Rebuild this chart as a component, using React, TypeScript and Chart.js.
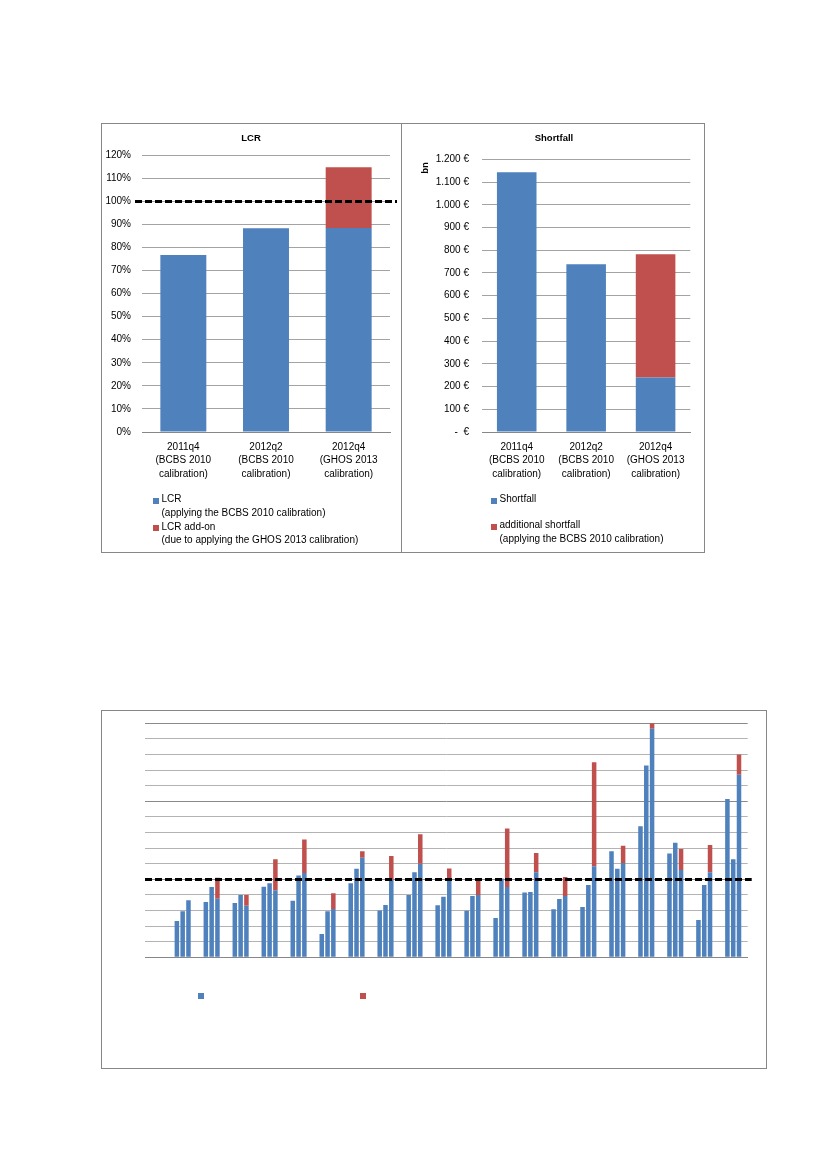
import React, { useEffect, useRef } from "react";
import { Chart, registerables } from "chart.js";

Chart.register(...registerables);

const FONT = "'Liberation Sans', Arial, sans-serif";
const BLUE = "#4F81BD";
const RED = "#C0504D";
const GRID = "#a3a3a3";
const FRAME = "#878787";

// ---------- LCR chart data ----------
const lcrCategories = [
  ["2011q4", "(BCBS 2010", "calibration)"],
  ["2012q2", "(BCBS 2010", "calibration)"],
  ["2012q4", "(GHOS 2013", "calibration)"],
];
const lcrBase = [76.7, 88.3, 88.4];
const lcrAddOn = [null, null, 26.3];
const lcrThreshold = 100;

// ---------- Shortfall chart data ----------
const shortfallCategories = [
  ["2011q4", "(BCBS 2010", "calibration)"],
  ["2012q2", "(BCBS 2010", "calibration)"],
  ["2012q4", "(GHOS 2013", "calibration)"],
];
const shortfallBase = [1143, 738, 240];
const shortfallAdditional = [null, null, 542];

// ---------- Bottom chart data (20 groups of 3 bars) ----------
const groupBar1 = [46.5, 71, 69.6, 90.5, 72.6, 30, 95, 60, 80, 66.6, 59.7, 50.4, 83, 61.5, 64.5, 136, 168, 133, 47.8, 203];
const groupBar2 = [59, 90, 80, 95, 105, 59, 113.6, 67, 109, 77.7, 78.6, 101, 83.7, 74.7, 92.7, 113.6, 246, 147, 92.7, 125.6];
const groupBar3 = [73, 75, 66, 86, 108, 62, 127.7, 99.5, 120, 101, 80, 90, 109, 78.6, 116.6, 121, 293, 112, 109, 234];
const groupBar3AddOn = [0, 27, 14, 39.6, 43, 20, 8.3, 30.5, 37.6, 13, 21, 75, 24.7, 24.4, 133.4, 22, 7, 27, 35, 26];
const bottomThreshold = 100;

// slot layout for the bottom chart (each bar is one category slot)
const SLOT_COUNT = 104;
const FIRST_SLOT = 5;
const GROUP_STRIDE = 5;

function buildSlots() {
  const blue: (number | null)[] = new Array(SLOT_COUNT).fill(null);
  const red: (number | null)[] = new Array(SLOT_COUNT).fill(null);
  for (let g = 0; g < groupBar1.length; g++) {
    const s = FIRST_SLOT + g * GROUP_STRIDE;
    blue[s] = groupBar1[g];
    blue[s + 1] = groupBar2[g];
    blue[s + 2] = groupBar3[g];
    red[s + 2] = groupBar3AddOn[g] > 0 ? groupBar3AddOn[g] : null;
  }
  return { blue, red };
}

function dashedLinePlugin(value: number, extLeft: number, extRight: number) {
  return {
    id: "dashedLine",
    afterDatasetsDraw(chart: any) {
      const { ctx, chartArea, scales } = chart;
      const y = Math.round(scales.y.getPixelForValue(value)) + 0.5;
      ctx.save();
      ctx.strokeStyle = "#000";
      ctx.lineWidth = 3;
      ctx.setLineDash([7, 3]);
      ctx.beginPath();
      ctx.moveTo(chartArea.left - extLeft, y);
      ctx.lineTo(chartArea.right + extRight, y);
      ctx.stroke();
      ctx.restore();
    },
  };
}

function useChart(ref: React.RefObject<HTMLCanvasElement | null>, make: () => any) {
  useEffect(() => {
    if (!ref.current) return;
    const chart = new Chart(ref.current, make());
    return () => chart.destroy();
  }, []);
}

const tickFont = { family: FONT, size: 10, lineHeight: 1.36 };

function LcrCanvas() {
  const ref = useRef<HTMLCanvasElement>(null);
  useChart(ref, () => ({
    type: "bar",
    data: {
      labels: lcrCategories,
      datasets: [
        { label: "LCR", data: lcrBase, backgroundColor: BLUE, barPercentage: 0.556, categoryPercentage: 1 },
        { label: "LCR add-on", data: lcrAddOn, backgroundColor: RED, barPercentage: 0.556, categoryPercentage: 1 },
      ],
    },
    options: {
      responsive: false,
      animation: false,
      devicePixelRatio: window.devicePixelRatio || 1,
      layout: { padding: { left: 0, top: 31, right: 11, bottom: 0 } },
      plugins: { legend: { display: false }, tooltip: { enabled: false }, title: { display: false } },
      scales: {
        x: {
          stacked: true,
          grid: { display: false, drawTicks: false },
          border: { display: true, color: FRAME },
          ticks: { font: tickFont, color: "#000", padding: 8, maxRotation: 0, autoSkip: false },
          afterFit: (s: any) => { s.height = 120; },
        },
        y: {
          stacked: true,
          min: 0,
          max: 120,
          grid: { color: GRID, drawTicks: false },
          border: { display: false },
          ticks: { stepSize: 10, font: tickFont, color: "#000", padding: 11, callback: (v: any) => v + "%" },
          afterFit: (s: any) => { s.width = 40; },
        },
      },
    },
    plugins: [dashedLinePlugin(lcrThreshold, 7, 7)],
  }));
  return <canvas ref={ref} width={299} height={428} style={{ position: "absolute", left: 102, top: 124, width: 299, height: 428 }} />;
}

function formatEuro(v: number) {
  if (v === 0) return "-  €";
  if (v >= 1000) return Math.floor(v / 1000) + "." + String(v % 1000).padStart(3, "0") + " €";
  return v + " €";
}

function ShortfallCanvas() {
  const ref = useRef<HTMLCanvasElement>(null);
  useChart(ref, () => ({
    type: "bar",
    data: {
      labels: shortfallCategories,
      datasets: [
        { label: "Shortfall", data: shortfallBase, backgroundColor: BLUE, barPercentage: 0.57, categoryPercentage: 1 },
        { label: "additional shortfall", data: shortfallAdditional, backgroundColor: RED, barPercentage: 0.57, categoryPercentage: 1 },
      ],
    },
    options: {
      responsive: false,
      animation: false,
      devicePixelRatio: window.devicePixelRatio || 1,
      layout: { padding: { left: 0, top: 35.3, right: 13.7, bottom: 0 } },
      plugins: { legend: { display: false }, tooltip: { enabled: false }, title: { display: false } },
      scales: {
        x: {
          stacked: true,
          grid: { display: false, drawTicks: false },
          border: { display: true, color: FRAME },
          ticks: { font: tickFont, color: "#000", padding: 8, maxRotation: 0, autoSkip: false },
          afterFit: (s: any) => { s.height = 120; },
        },
        y: {
          stacked: true,
          min: 0,
          max: 1200,
          grid: { color: GRID, drawTicks: false },
          border: { display: false },
          ticks: { stepSize: 100, font: tickFont, color: "#000", padding: 13, callback: (v: any) => formatEuro(v) },
          afterFit: (s: any) => { s.width = 80; },
        },
      },
    },
  }));
  return <canvas ref={ref} width={302} height={428} style={{ position: "absolute", left: 402, top: 124, width: 302, height: 428 }} />;
}

function BottomCanvas() {
  const ref = useRef<HTMLCanvasElement>(null);
  useChart(ref, () => {
    const { blue, red } = buildSlots();
    return {
      type: "bar",
      data: {
        labels: new Array(SLOT_COUNT).fill(""),
        datasets: [
          { label: "blue", data: blue, backgroundColor: BLUE, barPercentage: 0.78, categoryPercentage: 1 },
          { label: "red", data: red, backgroundColor: RED, barPercentage: 0.78, categoryPercentage: 1 },
        ],
      },
      options: {
        responsive: false,
        animation: false,
        devicePixelRatio: window.devicePixelRatio || 1,
        layout: { padding: { left: 0, top: 12.3, right: 18.3, bottom: 0 } },
        plugins: { legend: { display: false }, tooltip: { enabled: false }, title: { display: false } },
        scales: {
          x: {
            stacked: true,
            grid: { display: false, drawTicks: false },
            border: { display: true, color: FRAME },
            ticks: { display: false },
            afterFit: (s: any) => { s.height = 110.7; },
          },
          y: {
            stacked: true,
            min: 0,
            max: 300,
            grid: {
              drawTicks: false,
              color: (c: any) => (c.tick && c.tick.value % 100 === 0 ? "#8a8a8a" : "#b3b3b3"),
            },
            border: { display: false },
            ticks: { stepSize: 20, display: false },
            afterFit: (s: any) => { s.width = 43; },
          },
        },
      },
      plugins: [dashedLinePlugin(bottomThreshold, 0, 4)],
    };
  });
  return <canvas ref={ref} width={664} height={357} style={{ position: "absolute", left: 102, top: 711, width: 664, height: 357 }} />;
}

const Box = ({ x, y, w, h }: { x: number; y: number; w: number; h: number }) => (
  <div style={{ position: "absolute", left: x, top: y, width: w, height: h, boxSizing: "border-box", border: `1px solid ${FRAME}`, pointerEvents: "none" }} />
);

const Txt = ({ x, y, children, bold, center, size = 10 }: any) => (
  <div
    style={{
      position: "absolute",
      left: x,
      top: y - 7,
      height: 14,
      lineHeight: "14px",
      font: `${bold ? "bold " : ""}${size}px ${FONT}`,
      color: "#000",
      whiteSpace: "pre",
      transform: center ? "translateX(-50%)" : undefined,
    }}
  >
    {children}
  </div>
);

const Sq = ({ x, y, color, s = 6 }: any) => (
  <div style={{ position: "absolute", left: x, top: y, width: s, height: s, background: color }} />
);

export default function App() {
  return (
    <div style={{ position: "relative", width: 811, height: 1153 }}>
      <div style={{ position: "absolute", left: -8, top: -8, width: 827, height: 1169 }}>
        <LcrCanvas />
        <ShortfallCanvas />
        <BottomCanvas />
        <Box x={101} y={123} w={301} h={430} />
        <Box x={401} y={123} w={304} h={430} />
        <Box x={101} y={710} w={666} h={359} />

        {/* LCR title and legend */}
        <Txt x={251} y={139} bold center size={9.5}>LCR</Txt>
        <Sq x={153} y={497.5} color={BLUE} />
        <Txt x={161.5} y={500}>LCR</Txt>
        <Txt x={161.5} y={513.5}>(applying the BCBS 2010 calibration)</Txt>
        <Sq x={153} y={525} color={RED} />
        <Txt x={161.5} y={527.5}>LCR add-on</Txt>
        <Txt x={161.5} y={541}>(due to applying the GHOS 2013 calibration)</Txt>

        {/* Shortfall title, unit and legend */}
        <Txt x={554} y={139} bold center size={9.5}>Shortfall</Txt>
        <div
          style={{
            position: "absolute",
            left: 424,
            top: 168,
            font: `bold 9.5px ${FONT}`,
            color: "#000",
            transform: "translate(-50%, -50%) rotate(-90deg)",
            whiteSpace: "nowrap",
          }}
        >
          bn
        </div>
        <Sq x={491} y={497.5} color={BLUE} />
        <Txt x={499.5} y={500}>Shortfall</Txt>
        <Sq x={491} y={523.5} color={RED} />
        <Txt x={499.5} y={526}>additional shortfall</Txt>
        <Txt x={499.5} y={539.5}>(applying the BCBS 2010 calibration)</Txt>

        {/* bottom chart legend markers */}
        <Sq x={198} y={993} color={BLUE} />
        <Sq x={360} y={993} color={RED} />
      </div>
    </div>
  );
}
